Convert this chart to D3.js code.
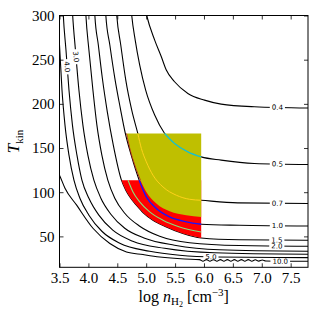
<!DOCTYPE html>
<html lang="en">
<head>
  <meta charset="utf-8">
  <title>Line ratio contours</title>
  <style>
    body { margin: 0; background: #fff; }
    svg { display: block; }
    .tick text { font-family: "Liberation Serif", serif; font-size: 15px; fill: #000; }
    .tick line { stroke: #000; stroke-width: 0.8; }
    .clabel { font-family: "DejaVu Sans", sans-serif; font-size: 7px; fill: #000; }
    .axlabel { font-family: "Liberation Serif", serif; font-size: 16px; fill: #000; }
  </style>
  <script src="https://cdn.jsdelivr.net/npm/d3@7"></script>
</head>
<body>
<svg width="315" height="315"></svg>
<script>
// ticks
const xTicks = [3.5, 4.0, 4.5, 5.0, 5.5, 6.0, 6.5, 7.0, 7.5];
const yTicks = [50, 100, 150, 200, 250, 300];

// contour lines, [log n, T]
const c04 = [[4.96, 315], [5.009, 300], [5.147, 272.2], [5.262, 253.3], [5.348, 238.2], [5.491, 225], [5.721, 211.8], [6.009, 204.2], [6.297, 199.7], [6.871, 196.7], [7.8, 195.3]];
const c05 = [[4.73, 315], [4.75, 300], [4.81, 272.2], [4.888, 243.9], [4.991, 215.6], [5.147, 187.3], [5.319, 166.5], [5.491, 155.2], [5.721, 145.7], [5.952, 140], [6.297, 136.3], [6.871, 132.5], [7.8, 131.4]];
const c07 = [[4.475, 315], [4.491, 300], [4.56, 266.6], [4.647, 226.9], [4.75, 192.9], [4.855, 166.5], [4.917, 149.5], [5.003, 134.3], [5.117, 119.3], [5.29, 106], [5.521, 96.6], [5.75, 92], [5.952, 90.9], [6.583, 87.9], [7.8, 87.2]];
const c10 = [[4.29, 315], [4.302, 300], [4.371, 266.6], [4.457, 229.2], [4.552, 195.2], [4.638, 166.9], [4.741, 141.9], [4.879, 113.6], [5.003, 94.7], [5.176, 81.5], [5.405, 72], [5.693, 66.4], [5.952, 63.7], [6.612, 62.6], [7.8, 61.8]];
const c15 = [[4.1, 315], [4.112, 300], [4.172, 266.6], [4.241, 229.2], [4.328, 190.7], [4.431, 153.3], [4.572, 113.6], [4.647, 102.3], [4.733, 93.2], [4.831, 85.3], [4.945, 77], [5.117, 68.3], [5.348, 60.7], [5.634, 53.2], [5.952, 48.2], [6.612, 46.2], [7.8, 45.6]];
const c20 = [[3.945, 315], [3.957, 300], [4.009, 260.9], [4.078, 215.6], [4.147, 175.9], [4.233, 141.9], [4.336, 113.6], [4.457, 93.2], [4.629, 76.2], [4.888, 61.5], [5.233, 50.1], [5.75, 42.8], [6.612, 39.6], [7.8, 38.8]];
const c30 = [[3.715, 315], [3.728, 300], [3.776, 260.9], [3.836, 215.6], [3.905, 175.9], [3.991, 141.9], [4.095, 113.6], [4.216, 93.2], [4.388, 75.1], [4.629, 59.2], [4.974, 47.9], [5.491, 40], [6.267, 34.8], [7.8, 33.1]];
const c40 = [[3.555, 315], [3.566, 300], [3.612, 260.9], [3.664, 215.6], [3.724, 175.9], [3.802, 141.9], [3.888, 113.6], [4.009, 93.2], [4.181, 74], [4.422, 57], [4.767, 44.5], [5.319, 36.5], [6.181, 31.4], [7.8, 29.7]];
const c50 = [[3.46, 300], [3.5, 266.6], [3.543, 215.6], [3.595, 175.9], [3.664, 141.9], [3.75, 113.6], [3.853, 93.2], [4.009, 74], [4.233, 55.8], [4.543, 42.2], [5.06, 33.1], [5.578, 28.6], [6.2, 26.6], [7.8, 26]];
const c100 = [[3.45, 126], [3.5, 119.3], [3.595, 104.5], [3.797, 85.3], [4.083, 58.9], [4.371, 41.9], [4.659, 32.4], [4.945, 29.4], [5.233, 26.7], [5.664, 24.4],
  [5.922, 23.7], [5.983, 21.9], [6.043, 23.7], [6.103, 21.9], [6.164, 23.7], [6.224, 21.9], [6.284, 23.7], [6.345, 21.9], [6.405, 23.7], [6.466, 21.9],
  [6.526, 23.7], [6.586, 21.9], [6.647, 23.7], [6.707, 21.9], [6.767, 23.7], [6.828, 21.9], [6.888, 23.5], [6.948, 22], [7.009, 23.2], [7.069, 22.1], [7.3, 21.9], [7.8, 21.8]];

const levels = ["0.4", "0.5", "0.7", "1.0", "1.5", "2.0", "3.0", "4.0", "5.0", "10.0"];
const contours = [c04, c05, c07, c10, c15, c20, c30, c40, c50, c100];
// where each label sits on its line: by log n ("x") or by T ("y")
const labelAt = [["x", 7.27], ["x", 7.27], ["x", 7.27], ["x", 7.27], ["x", 7.26], ["x", 7.26], ["y", 253.3], ["y", 242], ["x", 6.12], ["x", 7.32]];

// constrained regions
const oliveEdge = [[4.659, 166.5], [4.716, 149.5], [4.802, 130.6], [4.9, 113.6], [5.003, 100.3], [5.176, 87.2], [5.405, 78.5], [5.693, 74], [5.952, 72]];
const greenLine = [[4.686, 113.6], [4.772, 100.3], [4.888, 89], [5.06, 77.7], [5.29, 68.3], [5.578, 60.7], [5.952, 55]];
const oliveTop = 166.5, redTop = 113.6, boxRight = 5.952;

const svg = d3.select("svg");
const x = d3.scaleLinear().domain([3.5, 7.8]).range([59.5, 308]);
const y = d3.scaleLinear().domain([15, 300]).range([267.3, 15.5]);
const [x0, x1] = x.range(), [y1, y0] = y.range();

svg.append("clipPath").attr("id", "plot")
  .append("rect").attr("x", x0).attr("y", y0).attr("width", x1 - x0).attr("height", y1 - y0);

const line = d3.line().x(d => x(d[0])).y(d => y(d[1])).curve(d3.curveMonotoneX);
const plot = svg.append("g").attr("clip-path", "url(#plot)");

// black contours
plot.selectAll("path.ct").data(contours).join("path")
  .attr("class", "ct")
  .attr("d", line)
  .attr("fill", "none").attr("stroke", "#000").attr("stroke-width", 1.1);

// red region, under the 1.5 line
const redEdge = c15.filter(d => d[1] <= redTop + 0.01 && d[0] <= boxRight + 0.001);
plot.append("path")
  .attr("d", line(redEdge) + `L${x(boxRight)},${y(redTop)}Z`)
  .attr("fill", "#ff0000");

// olive region
plot.append("path")
  .attr("d", line(oliveEdge) + `L${x(boxRight)},${y(oliveTop)}Z`)
  .attr("fill", "#bfbf00");
plot.append("path")
  .attr("d", line(oliveEdge.filter(d => d[1] >= redTop)))
  .attr("fill", "none").attr("stroke", "#b01010").attr("stroke-width", 0.8);

// coloured lines inside the regions
const inBox = (pts, top) => pts.filter(d => d[1] <= top + 0.01 && d[0] <= boxRight + 0.001);
const coloured = [
  [inBox(c05, oliveTop), "#17bfcf", 1.3],
  [inBox(c07, oliveTop), "#ffd21a", 1.0],
  [inBox(c10, redTop), "#1414ff", 1.4],
  [greenLine, "#86e07a", 1.1]
];
plot.selectAll("path.col").data(coloured).join("path")
  .attr("class", "col")
  .attr("d", d => line(d[0]))
  .attr("fill", "none")
  .attr("stroke", d => d[1])
  .attr("stroke-width", d => d[2]);

// contour labels with a gap in the line
function pointOn(pts, mode, v) {
  const p = pts.map(d => [x(d[0]), y(d[1])]);
  const key = mode === "x" ? 0 : 1;
  const target = mode === "x" ? x(v) : y(v);
  for (let i = 0; i < p.length - 1; i++) {
    const a = p[i], b = p[i + 1];
    const lo = Math.min(a[key], b[key]), hi = Math.max(a[key], b[key]);
    if (target >= lo && target <= hi) {
      const t = (target - a[key]) / (b[key] - a[key] || 1);
      let ang = Math.atan2(b[1] - a[1], b[0] - a[0]) * 180 / Math.PI;
      if (ang > 90) ang -= 180;
      if (ang < -90) ang += 180;
      return [a[0] + t * (b[0] - a[0]), a[1] + t * (b[1] - a[1]), ang];
    }
  }
  return p[0].concat(0);
}

levels.forEach((lev, i) => {
  const [px, py, ang] = pointOn(contours[i], labelAt[i][0], labelAt[i][1]);
  const g = plot.append("g").attr("transform", `translate(${px},${py}) rotate(${ang})`);
  const gap = g.append("rect").attr("fill", "#fff");
  const t = g.append("text").attr("class", "clabel")
    .attr("text-anchor", "middle").attr("dy", "0.35em").text(lev);
  const w = t.node().getComputedTextLength();
  gap.attr("x", -w / 2 - 2).attr("y", -2.2).attr("width", w + 4).attr("height", 4.4);
});

// axes, ticks inside on all four sides
const gx = svg.append("g").attr("transform", `translate(0,${y1})`)
  .call(d3.axisBottom(x).tickValues(xTicks).tickFormat(d3.format(".1f"))
    .tickSizeInner(-4).tickSizeOuter(0).tickPadding(5));
const gy = svg.append("g").attr("transform", `translate(${x0},0)`)
  .call(d3.axisLeft(y).tickValues(yTicks).tickFormat(d3.format("d"))
    .tickSizeInner(-4).tickSizeOuter(0).tickPadding(5));
const gt = svg.append("g").attr("transform", `translate(0,${y0})`)
  .call(d3.axisTop(x).tickValues(xTicks).tickFormat("").tickSizeInner(-4).tickSizeOuter(0));
const gr = svg.append("g").attr("transform", `translate(${x1},0)`)
  .call(d3.axisRight(y).tickValues(yTicks).tickFormat("").tickSizeInner(-4).tickSizeOuter(0));
[gx, gy, gt, gr].forEach(g => g.select(".domain").remove());

svg.append("rect")
  .attr("x", x0).attr("y", y0).attr("width", x1 - x0).attr("height", y1 - y0)
  .attr("fill", "none").attr("stroke", "#000").attr("stroke-width", 1);

// axis titles
const yl = svg.append("text").attr("class", "axlabel")
  .attr("transform", `translate(19,${(y0 + y1) / 2}) rotate(-90)`)
  .attr("text-anchor", "middle");
yl.append("tspan").attr("font-style", "italic").attr("font-size", "17px").text("T");
yl.append("tspan").attr("font-size", "11px").attr("dy", 4).text("kin");

const xl = svg.append("text").attr("class", "axlabel")
  .attr("x", (x0 + x1) / 2).attr("y", 302).attr("text-anchor", "middle");
xl.append("tspan").text("log ");
xl.append("tspan").attr("font-style", "italic").text("n");
xl.append("tspan").attr("font-size", "11px").attr("dy", 3).text("H");
xl.append("tspan").attr("font-size", "8px").attr("dy", 2).text("2");
xl.append("tspan").attr("dy", -5).text(" [cm");
xl.append("tspan").attr("font-size", "11px").attr("dy", -6).text("\u22123");
xl.append("tspan").attr("dy", 6).text("]");
</script>
</body>
</html>
